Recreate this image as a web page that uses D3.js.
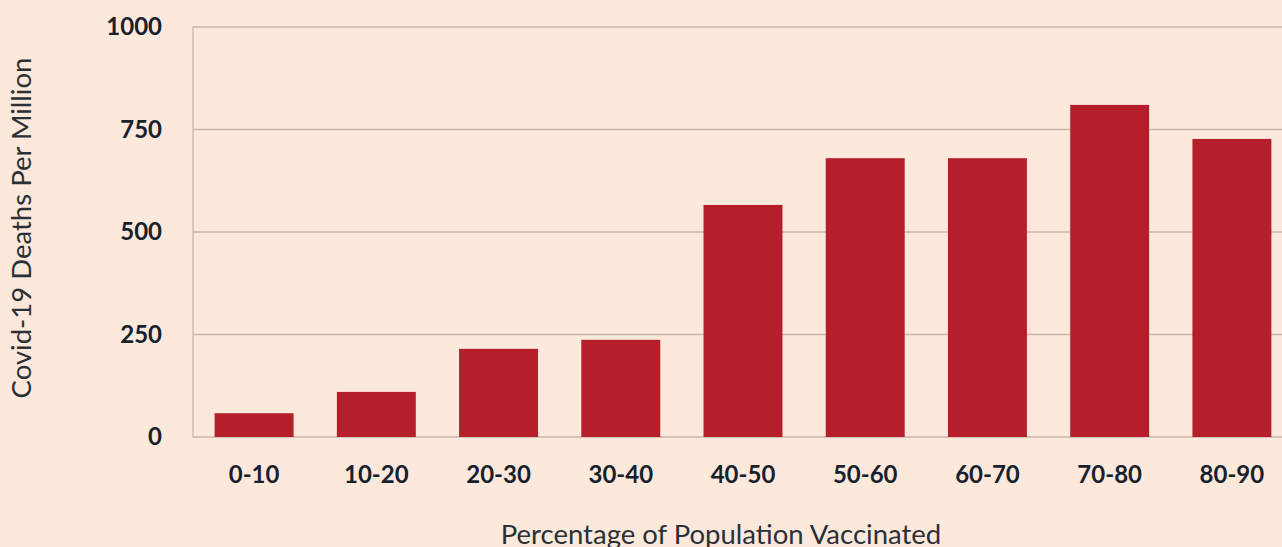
<!DOCTYPE html>
<html>
<head>
<meta charset="utf-8">
<script src="https://cdn.jsdelivr.net/npm/d3@7"></script>
<style>
  html, body { margin: 0; padding: 0; background: #fde9dc; }
  svg { display: block; }
</style>
</head>
<body>
<svg id="chart" width="1282" height="547"></svg>
<script>
// bins of vaccinated share and deaths per million
var categories = ["0-10", "10-20", "20-30", "30-40", "40-50", "50-60", "60-70", "70-80", "80-90"];
var deaths = [58, 110, 215, 237, 566, 680, 680, 810, 727];
var yTicks = [0, 250, 500, 750, 1000];

var width = 1282, height = 547;
var plotLeft = 193, plotBottom = 437, plotTop = 27;

var svg = d3.select('#chart');

svg.append('rect')
    .attr('width', width)
    .attr('height', height)
    .attr('fill', '#fde9dc');

var x = d3.scaleBand()
    .domain(categories)
    .range([plotLeft, plotLeft + 1100])
    .paddingInner(0.354)
    .paddingOuter(0.177);

var y = d3.scaleLinear()
    .domain([0, 1000])
    .range([plotBottom, plotTop]);

// grid lines
svg.append('g')
    .selectAll('line')
    .data(yTicks)
    .enter()
    .append('line')
    .attr('x1', plotLeft)
    .attr('x2', width)
    .attr('y1', d => y(d))
    .attr('y2', d => y(d))
    .attr('stroke', '#c9b6aa')
    .attr('stroke-width', 1.3)

// left axis line
svg.append('line')
    .attr('x1', plotLeft).attr('x2', plotLeft)
    .attr('y1', plotTop).attr('y2', plotBottom)
    .attr('stroke', '#c9b6aa')
    .attr('stroke-width', 1.3)

// bars
svg.append('g')
    .selectAll('rect')
    .data(deaths)
    .enter()
    .append('rect')
    .attr('x', (d, i) => x(categories[i]))
    .attr('width', x.bandwidth())
    .attr('y', d => y(d))
    .attr('height', d => y(0) - y(d))
    .attr('fill', '#b51f2b')

// y axis labels
const yAxis = d3.axisLeft(y).tickValues(yTicks).tickFormat(d3.format('d')).tickSize(0).tickPadding(31);
var yg = svg.append('g')
    .attr('transform', 'translate(' + plotLeft + ',0)')
    .call(yAxis);
yg.select('.domain').remove();
yg.selectAll('text')
    .attr('fill', '#17212c')
    .style('font-family', 'Lato')
    .style('font-weight', 'bold')
    .style('font-size', '24px');

// x axis labels
const xAxis = d3.axisBottom(x).tickSize(0).tickPadding(29);
var xg = svg.append('g')
    .attr('transform', 'translate(0,' + plotBottom + ')')
    .call(xAxis);
xg.select('.domain').remove();
xg.selectAll('text')
    .attr('fill', '#17212c')
    .style('font-family', 'Lato')
    .style('font-weight', 'bold')
    .style('font-size', '24px');

// axis titles
svg.append('text')
    .text('Percentage of Population Vaccinated')
    .attr('x', 721)
    .attr('y', 544)
    .attr('text-anchor', 'middle')
    .attr('fill', '#2b2f36')
    .style('font-family', 'Lato')
    .style('font-size', '27.5px')

svg.append('text')
    .text('Covid-19 Deaths Per Million')
    .attr('transform', 'translate(31,228) rotate(-90)')
    .attr('text-anchor', 'middle')
    .attr('fill', '#2b2f36')
    .style('font-family', 'Lato')
    .style('font-size', '27.5px')
</script>
</body>
</html>
